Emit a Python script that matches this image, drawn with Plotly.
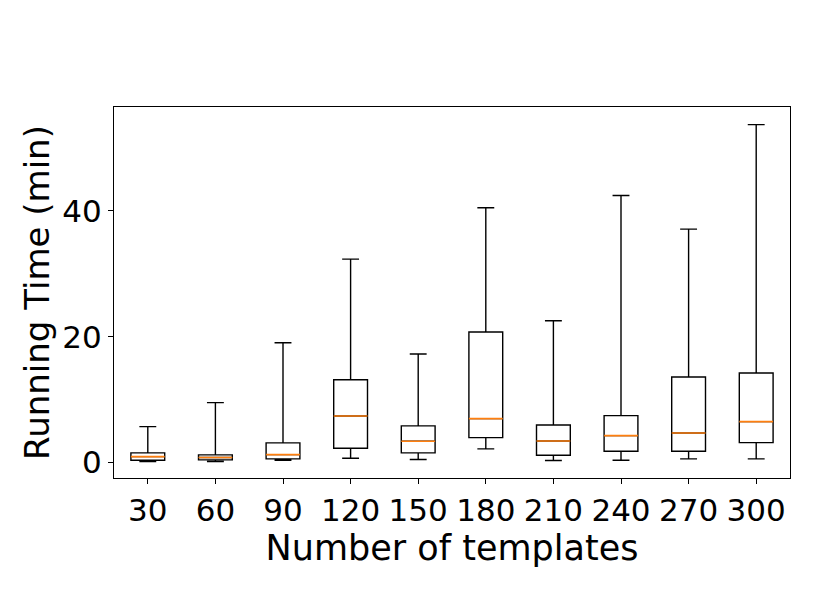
import plotly.graph_objects as go

templates = [30, 60, 90, 120, 150, 180, 210, 240, 270, 300]
lower_whisker = [0.16, 0.16, 0.38, 0.69, 0.48, 2.17, 0.32, 0.37, 0.59, 0.59]
q1 = [0.37, 0.43, 0.59, 2.28, 1.54, 3.97, 1.17, 1.81, 1.81, 3.17]
median = [0.95, 0.80, 1.27, 7.41, 3.39, 6.99, 3.44, 4.29, 4.71, 6.51]
q3 = [1.54, 1.22, 3.13, 13.17, 5.83, 20.75, 5.98, 7.46, 13.6, 14.24]
upper_whisker = [5.71, 9.52, 19.05, 32.33, 17.25, 40.48, 22.54, 42.44, 37.1, 53.7]

positions = list(range(1, len(templates) + 1))
box_width = 0.5

fig = go.Figure()
fig.add_trace(go.Box(
    x=positions,
    q1=q1, median=median, q3=q3,
    lowerfence=lower_whisker, upperfence=upper_whisker,
    width=box_width, whiskerwidth=0.5,
    fillcolor="white",
    line=dict(color="black", width=1.4),
    boxpoints=False,
    showlegend=False,
))

mx, my = [], []
for p, m in zip(positions, median):
    mx += [p - box_width / 2, p + box_width / 2, None]
    my += [m, m, None]
fig.add_trace(go.Scatter(
    x=mx, y=my, mode="lines",
    line=dict(color="#ff7f0e", width=1.6),
    showlegend=False, hoverinfo="skip",
))

font_family = "DejaVu Sans"
fig.update_layout(
    width=814, height=610,
    margin=dict(l=106, r=32, t=99, b=140),
    paper_bgcolor="white", plot_bgcolor="white",
    font=dict(family=font_family, color="black", size=31),
    showlegend=False,
)
fig.update_xaxes(
    range=[0.5, 10.5],
    tickmode="array", tickvals=positions, ticktext=[str(t) for t in templates],
    showline=True, linecolor="black", linewidth=1.2, mirror=True,
    ticks="outside", ticklen=5, tickcolor="black", tickwidth=1.2,
    showgrid=False, zeroline=False,
    tickfont=dict(size=31),
    title=dict(text="Number of templates", font=dict(size=35), standoff=4),
)
fig.update_yaxes(
    range=[-2.45, 56.5],
    tickmode="array", tickvals=[0, 20, 40],
    showline=True, linecolor="black", linewidth=1.2, mirror=True,
    ticks="outside", ticklen=5, tickcolor="black", tickwidth=1.2,
    showgrid=False, zeroline=False,
    tickfont=dict(size=31),
    title=dict(text="Running Time (min)", font=dict(size=34), standoff=2),
)

fig.write_html("out.html")
